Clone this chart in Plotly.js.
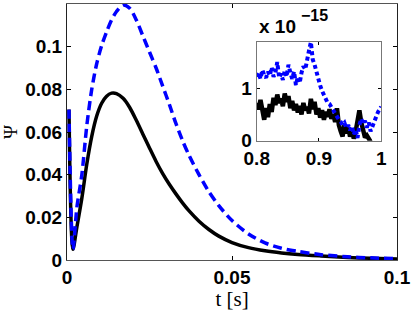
<!DOCTYPE html>
<html><head><meta charset="utf-8">
<script src="https://cdn.plot.ly/plotly-3.0.1.min.js"></script>
<style>body{margin:0;padding:0;background:#fff}#c{width:415px;height:311px}</style>
</head><body><div id="c"></div>
<script>
// Main curves
const t = [0.0006,0.0018,0.003,0.0045,0.006,0.0075,0.009,0.0105,0.012,0.0135,0.015,0.017,0.019,0.021,0.023,0.025,0.027,0.029,0.031,0.033,0.035,0.037,0.040,0.043,0.046,0.050,0.055,0.060,0.065,0.070,0.077,0.085,0.092,0.100];
const psiBlack = [0.0705,0.005,0.0155,0.029,0.045,0.058,0.0675,0.0735,0.0768,0.0782,0.0780,0.0758,0.0715,0.0655,0.0590,0.0525,0.0462,0.0405,0.0355,0.0310,0.0268,0.0230,0.0182,0.0143,0.0112,0.0082,0.0058,0.0043,0.0033,0.0026,0.0019,0.0012,0.0008,0.0005];
const psiBlue  = [0.0705,0.005,0.0247,0.040,0.063,0.080,0.092,0.1005,0.107,0.1125,0.1165,0.1195,0.1180,0.1125,0.1050,0.0975,0.0900,0.0815,0.0730,0.0640,0.0560,0.0490,0.0400,0.0320,0.0255,0.0185,0.0122,0.0080,0.0055,0.0040,0.0025,0.0015,0.0010,0.0006];

// Inset (values in units of 1e-15)
const tInsetBlack = [0.800,0.803,0.806,0.809,0.812,0.815,0.818,0.821,0.824,0.827,0.830,0.833,0.836,0.839,0.842,0.845,0.848,0.851,0.854,0.857,0.860,0.863,0.866,0.869,0.872,0.875,0.878,0.881,0.884,0.887,0.890,0.893,0.896,0.899,0.902,0.905,0.908,0.911,0.914,0.917,0.920,0.923,0.926,0.929,0.932,0.935,0.938,0.941,0.944,0.947,0.950,0.953,0.956,0.959,0.962,0.965,0.968,0.971,0.974,0.977,0.980,0.983];
const insetBlack = [0.72,0.60,0.78,0.52,0.40,0.62,0.45,0.70,0.55,0.82,0.68,0.88,0.72,0.80,0.66,0.90,0.74,0.85,0.62,0.76,0.58,0.70,0.54,0.66,0.50,0.72,0.58,0.64,0.52,0.80,0.60,0.74,0.50,0.62,0.44,0.58,0.40,0.55,0.46,0.60,0.42,0.50,0.36,0.62,0.30,0.18,0.08,0.30,0.14,0.26,0.08,0.20,0.04,0.18,0.40,0.58,0.35,0.18,0.06,0.10,0.02,-0.02];
const tInsetBlue = [0.800,0.803,0.806,0.809,0.812,0.815,0.818,0.821,0.824,0.827,0.830,0.833,0.836,0.839,0.842,0.845,0.848,0.851,0.854,0.857,0.860,0.863,0.866,0.869,0.872,0.875,0.878,0.881,0.884,0.887,0.890,0.893,0.896,0.899,0.902,0.905,0.908,0.911,0.914,0.917,0.920,0.923,0.926,0.929,0.932,0.935,0.938,0.941,0.944,0.947,0.950,0.953,0.956,0.959,0.962,0.965,0.968,0.971,0.974,0.977,0.980,0.983,0.986,0.989,0.992,0.995,0.998,1.000];
const insetBlue = [1.22,1.30,1.18,1.35,1.25,1.20,1.32,1.24,1.40,1.22,1.30,1.50,1.20,1.28,1.16,1.34,1.22,1.45,1.30,1.18,1.32,1.06,1.22,1.10,1.30,1.42,1.36,1.60,1.72,1.88,1.55,1.45,1.30,1.15,1.05,0.95,0.88,0.80,0.72,0.70,0.62,0.58,0.52,0.45,0.40,0.36,0.30,0.34,0.24,0.30,0.20,0.28,0.12,0.22,0.05,0.30,0.42,0.32,0.38,0.25,0.35,0.18,0.28,0.36,0.45,0.55,0.60,0.65];

const xTicks = [0,0.05,0.1], xTickText = ['0','0.05','0.1'];
const yTicks = [0,0.02,0.04,0.06,0.08,0.1], yTickText = ['0','0.02','0.04','0.06','0.08','0.1'];
const xTicksIn = [0.8,0.9,1], xTickTextIn = ['0.8','0.9','1'];
const yTicksIn = [0,1], yTickTextIn = ['0','1'];
const expBase = 'x 10', expPower = '\u221215';

const tf = {family:'Liberation Sans, Arial, sans-serif', size:19, color:'#000', weight:'bold'};
const data = [
  {x:t, y:psiBlack, mode:'lines', line:{color:'#000', width:3.5, shape:'spline', smoothing:0.8}, xaxis:'x', yaxis:'y'},
  {x:t, y:psiBlue, mode:'lines', line:{color:'#0000ff', width:3.5, dash:'9px,5px', shape:'spline', smoothing:0.8}, xaxis:'x', yaxis:'y'},
  {x:tInsetBlack, y:insetBlack, mode:'lines', line:{color:'#000', width:4.5}, xaxis:'x2', yaxis:'y2'},
  {x:tInsetBlue, y:insetBlue, mode:'lines', line:{color:'#0000ff', width:4, dash:'4px,3px'}, xaxis:'x2', yaxis:'y2'}
];
const layout = {
  width:415, height:311, showlegend:false,
  paper_bgcolor:'#fff', plot_bgcolor:'#fff',
  margin:{l:67, r:18, t:4, b:51},
  xaxis:{domain:[0,1], range:[0,0.1], tickvals:xTicks, ticktext:xTickText, ticks:'inside', ticklen:4, tickcolor:'#000',
    showline:true, linecolor:'#555', linewidth:1, mirror:'ticks', showgrid:false, zeroline:false, tickfont:tf,
    title:{text:'t [s]', font:{family:'Liberation Serif, Times New Roman, serif', size:21, color:'#000'}, standoff:0}},
  yaxis:{domain:[0,1], range:[0,0.12], tickvals:yTicks, ticktext:yTickText, ticks:'inside', ticklen:4, tickcolor:'#000',
    showline:true, linecolor:'#222', linewidth:1, mirror:'ticks', showgrid:false, zeroline:false, tickfont:tf,
    title:{text:'Ψ', font:{family:'Liberation Serif, Times New Roman, serif', size:19, color:'#000'}, standoff:2}},
  xaxis2:{domain:[0.575,0.952], anchor:'y2', range:[0.8,1], tickvals:xTicksIn, ticktext:xTickTextIn, ticks:'inside', ticklen:3, tickcolor:'#000',
    showline:true, linecolor:'#777', linewidth:1, mirror:'ticks', showgrid:false, zeroline:false, tickfont:tf},
  yaxis2:{domain:[0.466,0.853], anchor:'x2', range:[0,1.89], tickvals:yTicksIn, ticktext:yTickTextIn, ticks:'inside', ticklen:3, tickcolor:'#000',
    showline:true, linecolor:'#777', linewidth:1, mirror:'ticks', showgrid:false, zeroline:false, tickfont:tf},
  annotations:[
    {xref:'paper', yref:'paper', x:0.577, y:0.912, xanchor:'left', yanchor:'middle', showarrow:false,
     text:expBase, font:{family:'Liberation Sans, Arial, sans-serif', size:19, color:'#000', weight:'bold'}},
    {xref:'paper', yref:'paper', x:0.703, y:0.955, xanchor:'left', yanchor:'middle', showarrow:false,
     text:expPower, font:{family:'Liberation Sans, Arial, sans-serif', size:16, color:'#000', weight:'bold'}}
  ]
};
Plotly.newPlot('c', data, layout, {staticPlot:true, displayModeBar:false});
</script></body></html>
